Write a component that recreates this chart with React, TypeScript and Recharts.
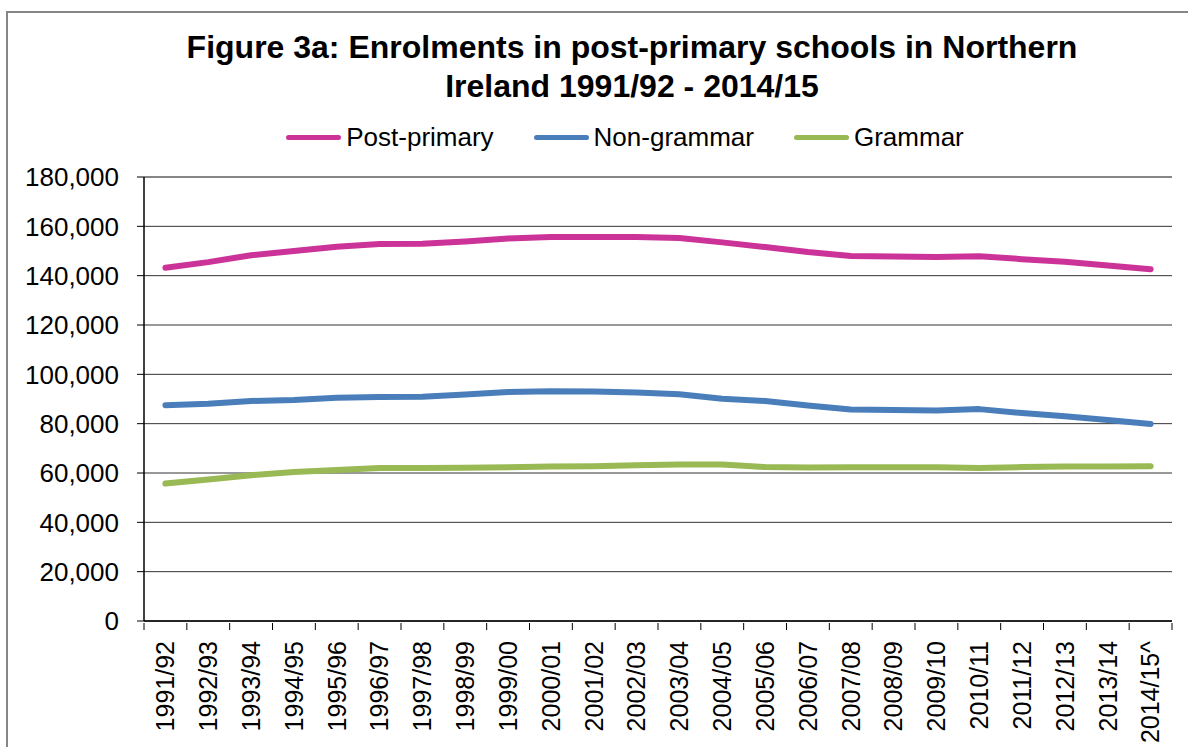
import React from "react";
import { LineChart, Line, XAxis, YAxis, CartesianGrid, ReferenceLine } from "recharts";

const years = [
  "1991/92", "1992/93", "1993/94", "1994/95", "1995/96", "1996/97", "1997/98", "1998/99",
  "1999/00", "2000/01", "2001/02", "2002/03", "2003/04", "2004/05", "2005/06", "2006/07",
  "2007/08", "2008/09", "2009/10", "2010/11", "2011/12", "2012/13", "2013/14", "2014/15^",
];
const postPrimary = [
  143200, 145500, 148300, 150000, 151700, 152800, 152900, 153900, 155100, 155700, 155700, 155700,
  155300, 153500, 151600, 149600, 148000, 147800, 147600, 147900, 146700, 145600, 144100, 142600,
];
const nonGrammar = [
  87500, 88100, 89200, 89600, 90500, 90800, 90900, 91800, 92800, 93100, 93000, 92600,
  91900, 90100, 89200, 87400, 85700, 85500, 85300, 85900, 84300, 83000, 81500, 79900,
];
const grammar = [
  55700, 57400, 59100, 60400, 61200, 62000, 62000, 62100, 62300, 62600, 62700, 63100,
  63400, 63400, 62400, 62200, 62300, 62300, 62300, 62000, 62400, 62600, 62600, 62700,
];
const yTicks = [0, 20000, 40000, 60000, 80000, 100000, 120000, 140000, 160000, 180000];

const series = [
  { key: "post", name: "Post-primary", color: "#CC3399" },
  { key: "non", name: "Non-grammar", color: "#4A7EBB" },
  { key: "gram", name: "Grammar", color: "#98B954" },
];

const data = years.map((y, i) => ({
  year: y,
  post: postPrimary[i],
  non: nonGrammar[i],
  gram: grammar[i],
}));

const FONT = "'Liberation Sans', Arial, sans-serif";
const PLOT_LEFT = 144;
const PLOT_RIGHT = 1172;
const BAND = (PLOT_RIGHT - PLOT_LEFT) / years.length;

// category labels at band centres, tick marks on the band edges
const XTick = (props: any) => {
  const { x, y, payload, index } = props;
  const ty = y + 11;
  const isLast = index === years.length - 1;
  return (
    <g>
      <line x1={x - BAND / 2} x2={x - BAND / 2} y1={y - 7} y2={y} stroke="#000" />
      {isLast && <line x1={x + BAND / 2} x2={x + BAND / 2} y1={y - 7} y2={y} stroke="#000" />}
      <text
        x={x}
        y={ty}
        transform={`rotate(-90, ${x}, ${ty})`}
        textAnchor="end"
        dy="0.355em"
        fontSize={25}
        fontFamily={FONT}
        fill="#000"
      >
        {payload.value}
      </text>
    </g>
  );
};

export default function App() {
  return (
    <div style={{ position: "fixed", left: 0, top: 0, width: 1188, height: 747, overflow: "hidden", background: "#fff", fontFamily: FONT }}>
      <div style={{ position: "absolute", left: 6, top: 11, width: 1300, height: 900, border: "2px solid #868686" }} />
      <div style={{ position: "absolute", left: 0, top: 28, width: 1264, textAlign: "center", fontWeight: "bold", fontSize: 32, lineHeight: "39px", color: "#000" }}>
        Figure 3a: Enrolments in post-primary schools in Northern
        <br />
        Ireland 1991/92 - 2014/15
      </div>
      <div style={{ position: "absolute", left: 0, top: 122, width: 1250, display: "flex", justifyContent: "center", alignItems: "center", fontSize: 26, color: "#000" }}>
        {series.map((s) => (
          <div key={s.key} style={{ display: "flex", alignItems: "center", margin: "0 20px" }}>
            <div style={{ width: 55, height: 5, background: s.color, borderRadius: 3, marginRight: 5 }} />
            <span>{s.name}</span>
          </div>
        ))}
      </div>
      <div style={{ position: "absolute", left: 0, top: 0 }}>
        <LineChart width={1188} height={747} data={data} margin={{ top: 177, right: 1188 - PLOT_RIGHT, bottom: 0, left: 0 }}>
          <CartesianGrid vertical={false} stroke="#333" strokeWidth={1} />
          <XAxis
            dataKey="year"
            scale="band"
            interval={0}
            height={126}
            tick={<XTick />}
            tickSize={7}
            tickLine={false}
            axisLine={{ stroke: "#000", strokeWidth: 1.5 }}
          />
          <YAxis
            domain={[0, 180000]}
            ticks={yTicks}
            width={PLOT_LEFT}
            tickSize={7}
            tickMargin={18}
            interval={0}
            tickFormatter={(v: number) => v.toLocaleString("en-US")}
            tick={{ fontSize: 26, fill: "#000", fontFamily: FONT }}
            axisLine={{ stroke: "#000", strokeWidth: 1.5 }}
            tickLine={{ stroke: "#000" }}
          />
          <YAxis yAxisId="right" orientation="right" width={0} tick={false} tickLine={false} axisLine={{ stroke: "#868686", strokeWidth: 2 }} />
          <ReferenceLine y={180000} stroke="#868686" strokeWidth={2} />
          {series.map((s) => (
            <Line
              key={s.key}
              type="linear"
              dataKey={s.key}
              name={s.name}
              stroke={s.color}
              strokeWidth={6}
              strokeLinecap="round"
              strokeLinejoin="round"
              dot={false}
              activeDot={false}
              isAnimationActive={false}
            />
          ))}
        </LineChart>
      </div>
    </div>
  );
}
